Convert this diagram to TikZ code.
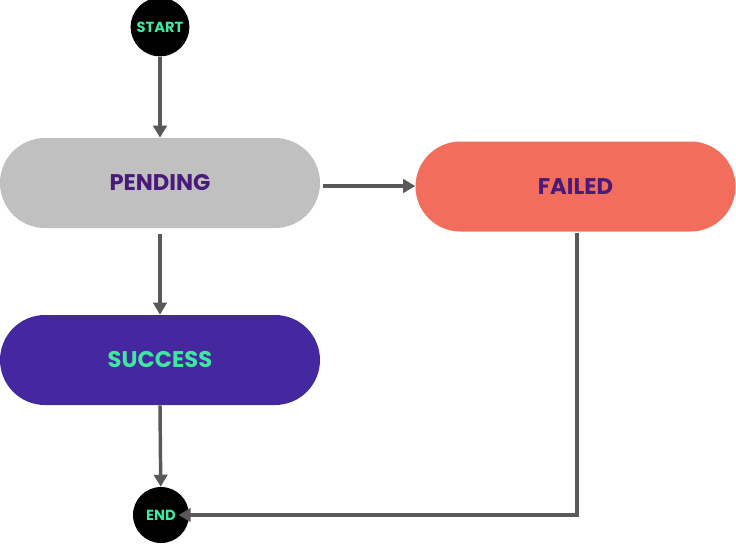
\documentclass[tikz,border=0pt]{standalone}
\usepackage{fontspec}
\setmainfont{Poppins}
\usetikzlibrary{arrows.meta}
\definecolor{grn}{HTML}{3EE8A0}
\definecolor{pur}{HTML}{4A1A7A}
\definecolor{lgray}{HTML}{C0C0C0}
\definecolor{coral}{HTML}{F26D5B}
\definecolor{vio}{HTML}{4527A0}
\definecolor{ln}{HTML}{595959}
\begin{document}
\begin{tikzpicture}[x=0.75pt,y=-0.75pt,
  term/.style={circle,fill=black,text=grn,minimum size=44pt,inner sep=0pt,font=\fontsize{11}{12}\selectfont\bfseries},
  state/.style={rounded corners=33.75pt,minimum width=240pt,minimum height=67.5pt,inner sep=0pt,font=\fontsize{17}{20}\selectfont\bfseries},
  arr/.style={draw=ln,line width=2.6pt,-{Triangle[length=9pt,width=10pt]}}]
\useasboundingbox (0,0) rectangle (736,544);
\node[term] (start) at (160,27) {START};
\node[state,fill=lgray,text=pur] (pend) at (160,183) {PENDING};
\node[state,fill=coral,text=pur] (fail) at (575.5,186.5) {FAILED};
\node[state,fill=vio,text=grn] (succ) at (160,360) {SUCCESS};
\node[term,minimum size=42pt] (end) at (161,515) {END};
\coordinate (corner) at (577,515);
\draw[arr] (start) -- (pend);
\draw[arr,shorten <=2pt] (pend.east |- 0,186) -- (fail.west |- 0,186);
\draw[arr,shorten <=4pt] (pend.south) -- (succ.north);
\draw[arr] (succ.south) -- (end);
\draw[arr,shorten <=1pt] (fail.south -| corner) -- (corner) -- ([xshift=-8pt]end.east);
\end{tikzpicture}
\end{document}
